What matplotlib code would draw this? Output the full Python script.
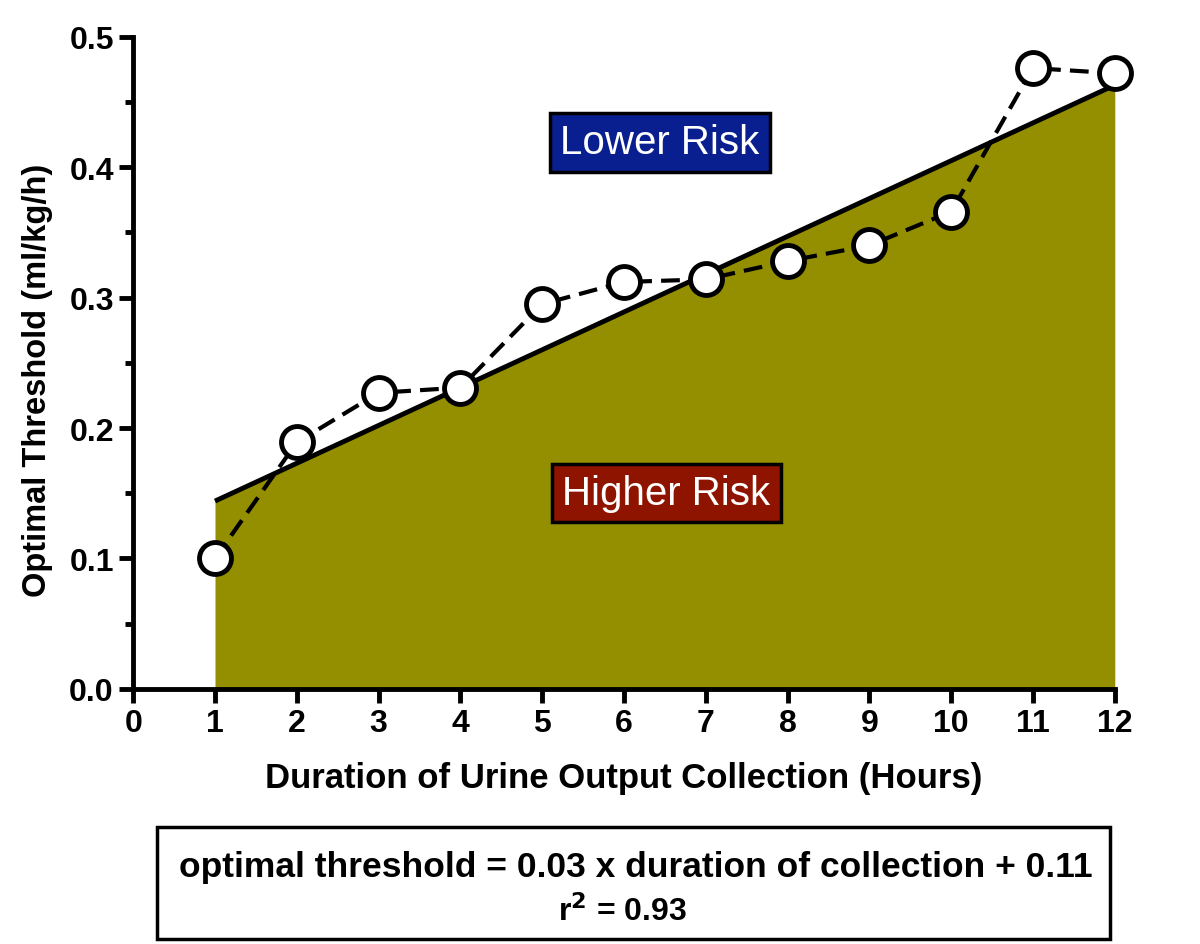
import numpy as np
import matplotlib.pyplot as plt
from matplotlib.patches import Rectangle

# data
hours = [1, 2, 3, 4, 5, 6, 7, 8, 9, 10, 11, 12]
threshold = [0.100, 0.189, 0.227, 0.231, 0.295, 0.312, 0.314, 0.328, 0.340, 0.366, 0.476, 0.472]
fit_x = [1, 12]
fit_y = [0.144, 0.463]

plt.rcParams['font.family'] = ['Liberation Sans', 'DejaVu Sans']
plt.rcParams['font.weight'] = 'bold'

fig = plt.figure(figsize=(12, 9.45), dpi=100)
ax = fig.add_axes([0.111, 0.270, 0.818, 0.690])

ax.fill_between(fit_x, fit_y, 0, color='#948f00', linewidth=0, zorder=1)
ax.plot(fit_x, fit_y, color='black', lw=3.5, solid_capstyle='butt', zorder=2)
ax.plot(hours, threshold, color='black', lw=3, ls=(0, (4.5, 2.2)), zorder=3,
        marker='o', ms=23, mfc='white', mec='black', mew=3.5, clip_on=False)

ax.set_xlim(0, 12)
ax.set_ylim(0, 0.5)
ax.set_xticks(range(0, 13))
ax.set_yticks([0.0, 0.1, 0.2, 0.3, 0.4, 0.5])
ax.set_yticklabels(['0.0', '0.1', '0.2', '0.3', '0.4', '0.5'])
ax.set_yticks(np.arange(0.05, 0.5, 0.1), minor=True)
for s in ['top', 'right']:
    ax.spines[s].set_visible(False)
for s in ['left', 'bottom']:
    ax.spines[s].set_linewidth(3.5)
    ax.spines[s].set_capstyle('projecting')
ax.tick_params(axis='both', which='major', width=3.5, length=10, labelsize=23, pad=4)
ax.tick_params(axis='y', which='minor', width=3.5, length=6)
for lab in ax.get_xticklabels() + ax.get_yticklabels():
    lab.set_fontweight('bold')

ax.set_xlabel('Duration of Urine Output Collection (Hours)', fontsize=25, fontweight='bold', labelpad=16)
ax.set_ylabel('Optimal Threshold (ml/kg/h)', fontsize=23.5, fontweight='bold')
ax.yaxis.set_label_coords(-0.082, 0.474)

ax.text(6.44, 0.419, 'Lower Risk', ha='center', va='center', fontsize=29, color='white',
        fontweight='normal',
        bbox=dict(boxstyle='square,pad=0.25', fc='#0a1f8f', ec='black', lw=2.5), zorder=5)
ax.text(6.52, 0.150, 'Higher Risk', ha='center', va='center', fontsize=29, color='white',
        fontweight='normal',
        bbox=dict(boxstyle='square,pad=0.25', fc='#8e1400', ec='black', lw=2.5), zorder=5)

fig.patches.append(Rectangle((157 / 1200, 1 - 940 / 945), 953 / 1200, 112 / 945,
                             transform=fig.transFigure, fc='white', ec='black', lw=2.5))
fig.text(0.530, 1 - 868 / 945, 'optimal threshold = 0.03 x duration of collection + 0.11',
         ha='center', va='center', fontsize=25.5, fontweight='bold')
fig.text(0.519, 1 - 912 / 945, r'r$^{\mathbf{2}}$ = 0.93', ha='center', va='center',
         fontsize=23, fontweight='bold')

fig.savefig('out.png', dpi=100)
